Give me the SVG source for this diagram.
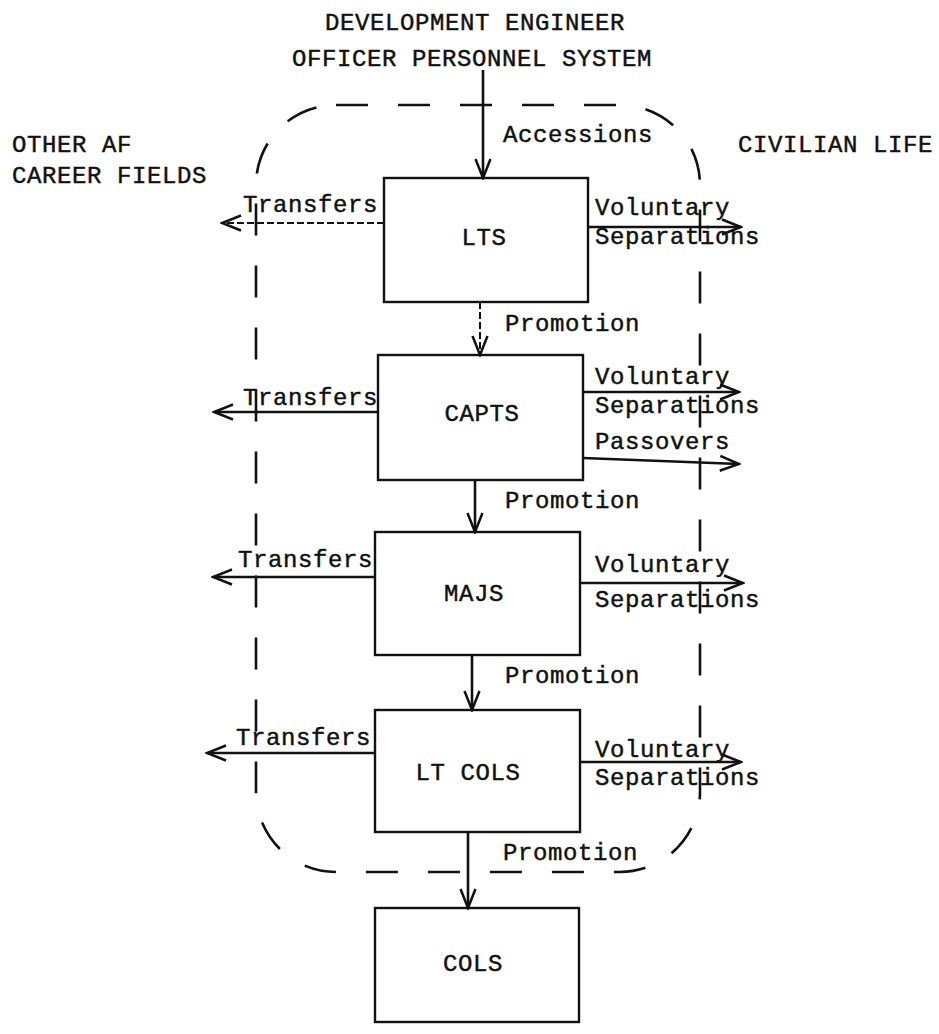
<svg xmlns="http://www.w3.org/2000/svg" width="939" height="1034" viewBox="0 0 939 1034">
<style>
text{font-family:"Liberation Mono","DejaVu Sans Mono",monospace;font-size:24px;letter-spacing:0.6px;fill:#111;stroke:#111;stroke-width:0.45}
.box{fill:none;stroke:#111;stroke-width:2.4}
.ln{fill:none;stroke:#111;stroke-width:2.6;marker-end:url(#arr)}
.dot{stroke-dasharray:7 3;stroke-width:2}
.bound{fill:none;stroke:#111;stroke-width:2.6;stroke-dasharray:32 30}
.c{text-anchor:middle}
</style>
<defs>
<marker id="arr" viewBox="0 0 22 18" refX="20" refY="9" markerWidth="22" markerHeight="18" markerUnits="userSpaceOnUse" orient="auto">
<path d="M1,1.5 L20,9 L1,16.5" fill="none" stroke="#111" stroke-width="2.5"/>
</marker>
</defs>
<rect width="939" height="1034" fill="#fff"/>
<g id="title">
<text class="c" x="475" y="30">DEVELOPMENT ENGINEER</text>
<text class="c" x="472" y="66">OFFICER PERSONNEL SYSTEM</text>
</g>
<g id="other-af">
<text x="12" y="152">OTHER AF</text>
<text x="12" y="183">CAREER FIELDS</text>
</g>
<g id="civilian-life">
<text x="738" y="152">CIVILIAN LIFE</text>
</g>
<g id="boundary">
<rect class="bound" x="256" y="105" width="444" height="767" rx="80" ry="80"/>
</g>
<g id="lts"><rect class="box" x="384" y="178" width="204" height="124"/><text class="c" x="484" y="245">LTS</text></g>
<g id="capts"><rect class="box" x="378" y="355" width="205" height="125"/><text class="c" x="482" y="421">CAPTS</text></g>
<g id="majs"><rect class="box" x="375" y="532" width="205" height="123"/><text class="c" x="474" y="601">MAJS</text></g>
<g id="ltcols"><rect class="box" x="375" y="710" width="205" height="122"/><text class="c" x="468" y="780">LT COLS</text></g>
<g id="cols"><rect class="box" x="375" y="908" width="204" height="114"/><text class="c" x="473" y="971">COLS</text></g>
<g id="connectors">
<line class="ln" x1="483" y1="70" x2="483" y2="178"/>
<line class="ln dot" x1="480" y1="302" x2="480" y2="355"/>
<line class="ln" x1="475" y1="480" x2="475" y2="532"/>
<line class="ln" x1="472" y1="655" x2="472" y2="710"/>
<line class="ln" x1="468" y1="832" x2="468" y2="908"/>
<line class="ln dot" x1="384" y1="223" x2="222" y2="223"/>
<line class="ln" x1="378" y1="412" x2="214" y2="412"/>
<line class="ln" x1="375" y1="577" x2="213" y2="577"/>
<line class="ln" x1="375" y1="753" x2="207" y2="753"/>
<line class="ln" x1="588" y1="227" x2="741" y2="227"/>
<line class="ln" x1="583" y1="392" x2="739" y2="392"/>
<line class="ln" x1="583" y1="458" x2="739" y2="464"/>
<line class="ln" x1="580" y1="583" x2="743" y2="583"/>
<line class="ln" x1="580" y1="762" x2="741" y2="762"/>
</g>
<g id="labels">
<text x="503" y="142">Accessions</text>
<text x="505" y="331">Promotion</text>
<text x="505" y="508">Promotion</text>
<text x="505" y="683">Promotion</text>
<text x="503" y="860">Promotion</text>
<text x="243" y="212">Transfers</text>
<text x="243" y="405">Transfers</text>
<text x="238" y="567">Transfers</text>
<text x="236" y="745">Transfers</text>
<text x="595" y="215">Voluntary</text>
<text x="595" y="244">Separations</text>
<text x="595" y="384">Voluntary</text>
<text x="595" y="413">Separations</text>
<text x="595" y="449">Passovers</text>
<text x="595" y="572">Voluntary</text>
<text x="595" y="607">Separations</text>
<text x="595" y="757">Voluntary</text>
<text x="595" y="785">Separations</text>
</g>
</svg>
